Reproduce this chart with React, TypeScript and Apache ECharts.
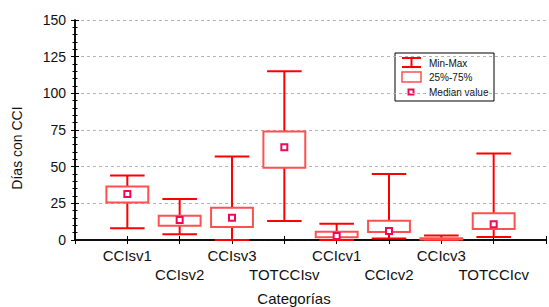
import React, { useEffect, useRef } from "react";
import * as echarts from "echarts";

const categories = ["CCIsv1", "CCIsv2", "CCIsv3", "TOTCCIsv", "CCIcv1", "CCIcv2", "CCIcv3", "TOTCCIcv"];
const minValues = [8, 4, 0, 13, 0, 1, 0, 2];
const q1Values = [25.5, 9.8, 8.9, 49.3, 1.8, 5.5, 0.3, 7.5];
const medianValues: (number | null)[] = [31.4, 13.6, 15.2, 63.2, 2.7, 6.1, null, 10.7];
const q3Values = [36.4, 16.6, 22, 73.9, 5.7, 13.2, 1.2, 18.2];
const maxValues = [44, 28, 57, 115, 11, 45, 3, 59];
const yTicks = [0, 25, 50, 75, 100, 125, 150];

const FONT = "'Liberation Sans', Arial, sans-serif";

export default function App() {
  const ref = useRef<HTMLDivElement>(null);
  useEffect(() => {
    if (!ref.current) return;
    const chart = echarts.init(ref.current, undefined, { renderer: "svg" });
    const data = categories.map((_, i) => [
      i + 1,
      minValues[i],
      q1Values[i],
      medianValues[i] === null ? "-" : medianValues[i],
      q3Values[i],
      maxValues[i],
    ]);
    const axisLine = { show: true, lineStyle: { color: "#000", width: 1.5 } };
    chart.setOption({
      animation: false,
      backgroundColor: "#fff",
      textStyle: { fontFamily: FONT },
      grid: { left: 75, right: 2, top: 20, bottom: 67, containLabel: false },
      xAxis: [
        {
          type: "value",
          min: 0,
          max: 9,
          interval: 1,
          position: "bottom",
          axisLine,
          axisTick: { show: true, inside: true, length: 4, lineStyle: { color: "#000" } },
          splitLine: { show: false },
          axisLabel: {
            show: true,
            margin: 6,
            fontSize: 15,
            color: "#111",
            fontFamily: FONT,
            lineHeight: 19,
            formatter: (v: number) => {
              const idx = Math.round(v) - 1;
              if (idx < 0 || idx >= categories.length) return "";
              return idx % 2 === 1 ? "\n" + categories[idx] : categories[idx];
            },
          },
        },
        {
          type: "value",
          min: 0,
          max: 9,
          interval: 1,
          position: "top",
          axisLine,
          axisTick: { show: true, inside: true, length: 4, lineStyle: { color: "#000" } },
          axisLabel: { show: false },
          splitLine: { show: false },
        },
      ],
      yAxis: [
        {
          type: "value",
          min: yTicks[0],
          max: yTicks[yTicks.length - 1],
          interval: 25,
          position: "left",
          axisLine,
          axisTick: { show: true, inside: true, length: 4, lineStyle: { color: "#000" } },
          minorTick: { show: true, splitNumber: 5, length: 2.5, lineStyle: { color: "#000" } },
          axisLabel: { fontSize: 14, color: "#111", margin: 9, fontFamily: FONT },
          splitLine: { show: true, lineStyle: { color: "#b4b4b4", type: [3, 3], width: 1 } },
        },
        {
          type: "value",
          min: yTicks[0],
          max: yTicks[yTicks.length - 1],
          interval: 25,
          position: "right",
          axisLine,
          axisTick: { show: true, inside: true, length: 4, lineStyle: { color: "#000" } },
          minorTick: { show: true, splitNumber: 5, length: 2.5, lineStyle: { color: "#000" } },
          axisLabel: { show: false },
          splitLine: { show: false },
        },
      ],
      series: [
        {
          type: "custom",
          xAxisIndex: 0,
          yAxisIndex: 0,
          data,
          z: 5,
          renderItem: (params: any, api: any) => {
            const x = api.value(0);
            const cx = api.coord([x, 0])[0];
            const yMin = api.coord([x, api.value(1)])[1];
            const yQ1 = api.coord([x, api.value(2)])[1];
            const med = api.value(3);
            const yQ3 = api.coord([x, api.value(4)])[1];
            const yMax = api.coord([x, api.value(5)])[1];
            const unit = api.size([1, 0])[0];
            const hb = (unit * 0.8) / 2;
            const hc = (unit * 0.66) / 2;
            const whisker = { stroke: "#ff0000", lineWidth: 2 };
            const children: any[] = [
              { type: "line", shape: { x1: cx, y1: yMax, x2: cx, y2: yQ3 }, style: whisker },
              { type: "line", shape: { x1: cx, y1: yQ1, x2: cx, y2: yMin }, style: whisker },
              { type: "line", shape: { x1: cx - hc, y1: yMax, x2: cx + hc, y2: yMax }, style: whisker },
              { type: "line", shape: { x1: cx - hc, y1: yMin, x2: cx + hc, y2: yMin }, style: whisker },
              {
                type: "rect",
                shape: { x: cx - hb, y: yQ3, width: hb * 2, height: yQ1 - yQ3 },
                style: { stroke: "#ff5050", fill: "#fff", lineWidth: 2 },
              },
            ];
            if (typeof med === "number" && !isNaN(med)) {
              const yMed = api.coord([x, med])[1];
              children.push({
                type: "rect",
                shape: { x: cx - 3, y: yMed - 3, width: 6, height: 6 },
                style: { stroke: "#ee0a55", fill: "#fff", lineWidth: 2 },
              });
            }
            return { type: "group", children };
          },
        },
      ],
      graphic: [
        {
          type: "text",
          x: 294,
          y: 298,
          style: {
            text: "Categorías",
            fontSize: 15,
            fill: "#111",
            fontFamily: FONT,
            align: "center",
            verticalAlign: "middle",
          },
        },
        {
          type: "text",
          x: 17,
          y: 148,
          rotation: Math.PI / 2,
          style: {
            text: "Días con CCI",
            fontSize: 14,
            fill: "#111",
            fontFamily: FONT,
            align: "center",
            verticalAlign: "middle",
          },
        },
        {
          type: "group",
          z: 100,
          children: [
            {
              type: "rect",
              shape: { x: 395, y: 53, width: 99, height: 48 },
              style: { fill: "#fff", stroke: "#000", lineWidth: 1 },
            },
            { type: "line", shape: { x1: 402, y1: 58, x2: 421, y2: 58 }, style: { stroke: "#ff0000", lineWidth: 2 } },
            { type: "line", shape: { x1: 402, y1: 67, x2: 421, y2: 67 }, style: { stroke: "#ff0000", lineWidth: 2 } },
            { type: "line", shape: { x1: 411.5, y1: 58, x2: 411.5, y2: 67 }, style: { stroke: "#ff0000", lineWidth: 2 } },
            {
              type: "rect",
              shape: { x: 402, y: 72, width: 19, height: 10 },
              style: { fill: "#fff", stroke: "#ff5050", lineWidth: 1.5 },
            },
            {
              type: "rect",
              shape: { x: 408.5, y: 89.5, width: 5, height: 5 },
              style: { fill: "#fff", stroke: "#ee0a55", lineWidth: 2 },
            },
            {
              type: "text",
              x: 429,
              y: 63,
              style: { text: "Min-Max", fontSize: 10, fill: "#111", fontFamily: FONT, verticalAlign: "middle" },
            },
            {
              type: "text",
              x: 429,
              y: 77.5,
              style: { text: "25%-75%", fontSize: 10, fill: "#111", fontFamily: FONT, verticalAlign: "middle" },
            },
            {
              type: "text",
              x: 429,
              y: 92,
              style: { text: "Median value", fontSize: 10, fill: "#111", fontFamily: FONT, verticalAlign: "middle" },
            },
          ],
        },
      ],
    });
    return () => chart.dispose();
  }, []);
  return (
    <div
      ref={ref}
      style={{ position: "fixed", left: 0, top: 0, width: 549, height: 307 }}
    />
  );
}
